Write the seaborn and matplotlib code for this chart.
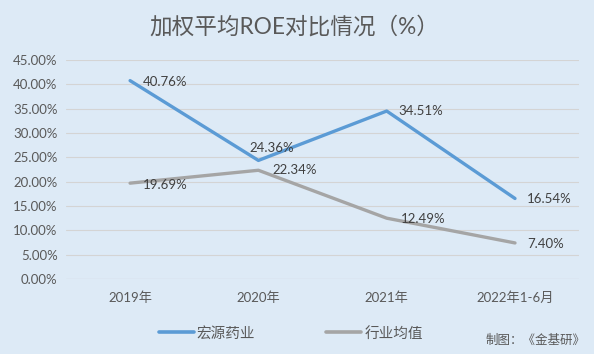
import matplotlib
matplotlib.use("Agg")
import matplotlib.pyplot as plt
import seaborn as sns
import pandas as pd
from matplotlib.ticker import PercentFormatter
from matplotlib.lines import Line2D

categories = ["2019年", "2020年", "2021年", "2022年1-6月"]
hongyuan = [40.76, 24.36, 34.51, 16.54]
industry = [19.69, 22.34, 12.49, 7.40]
series_names = ["宏源药业", "行业均值"]
title = "加权平均ROE对比情况（%）"
credit = "制图：《金基研》"

sns.set_theme(style="white")
FAM = ["Lato", "Noto Sans CJK SC", "DejaVu Sans"]
plt.rcParams["font.family"] = FAM

bg = "#DDEAF6"
txt = "#595959"
colors = ["#5B9BD5", "#A5A5A5"]

df = pd.DataFrame({
    "cat": categories * 2,
    "x": list(range(len(categories))) * 2,
    "val": [v / 100 for v in hongyuan] + [v / 100 for v in industry],
    "series": [series_names[0]] * 4 + [series_names[1]] * 4,
})

fig = plt.figure(figsize=(5.94, 3.54), dpi=100, facecolor=bg)
ax = fig.add_axes([0.111, 0.212, 0.864, 0.6185])
ax.set_facecolor(bg)

sns.lineplot(data=df, x="x", y="val", hue="series", palette=colors,
             linewidth=2.4, ax=ax, legend=False, sort=False)

ax.set_xlim(-0.5, 3.5)
ax.set_ylim(0, 0.45)
ax.set_yticks([i * 0.05 for i in range(10)])
ax.yaxis.set_major_formatter(PercentFormatter(1.0, decimals=2))
ax.set_xticks(range(4))
ax.set_xticklabels(categories)
ax.tick_params(axis="both", colors=txt, labelsize=9.5, length=0)
ax.tick_params(axis="x", pad=9)
ax.tick_params(axis="y", pad=6)
ax.grid(axis="y", color="#D4D4D4", linewidth=0.8)
ax.set_axisbelow(True)
for s in ax.spines.values():
    s.set_visible(False)
ax.axhline(0, color="#D4D4D4", linewidth=0.8, zorder=0)
ax.set_xlabel("")
ax.set_ylabel("")

# data labels (pixel offsets)
h_off = [(13, -1), (-9, 12), (12, 0), (12, -1)]
i_off = [(13, -2), (14, 0), (14, -1), (12, -1)]
for i, v in enumerate(hongyuan):
    ax.annotate(f"{v:.2f}%", (i, v / 100), xytext=h_off[i],
                textcoords="offset pixels", va="center", ha="left",
                fontsize=9.5, color="#404040")
for i, v in enumerate(industry):
    ax.annotate(f"{v:.2f}%", (i, v / 100), xytext=i_off[i],
                textcoords="offset pixels", va="center", ha="left",
                fontsize=9.5, color="#404040")

fig.text(0.495, 0.925, title, ha="center", va="center", fontsize=16.3, color=txt)

# legend
handles = [Line2D([0], [0], color=c, linewidth=2.6) for c in colors]
fig.legend(handles, series_names, loc="center left", bbox_to_anchor=(0.267, 0.058),
           ncol=2, frameon=False, fontsize=10.5, handlelength=2.4,
           handletextpad=0.2, columnspacing=4.9, labelcolor=txt,
           borderpad=0, borderaxespad=0)

fig.text(0.985, 0.022, credit, ha="right", va="bottom", fontsize=9, color=txt)

fig.savefig("out.png", dpi=100, facecolor=bg)
